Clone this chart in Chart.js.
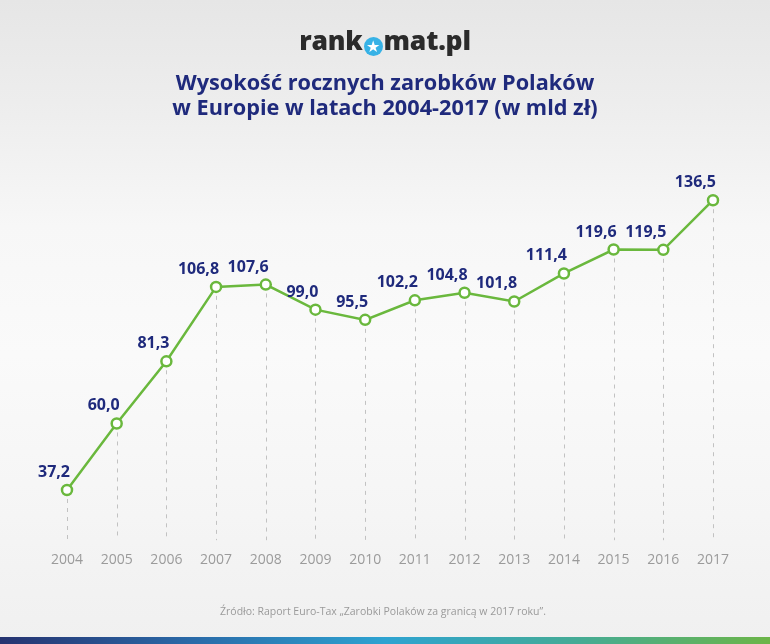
<!DOCTYPE html>
<html>
<head>
<meta charset="utf-8">
<script src="https://cdn.jsdelivr.net/npm/chart.js@4"></script>
<style>
  html, body { margin: 0; padding: 0; }
  body {
    width: 770px; height: 644px; position: relative; overflow: hidden;
    background: linear-gradient(to bottom, #e6e6e6 0%, #eeeeee 18%, #f7f7f7 35%, #fafafa 55%, #f5f5f5 80%, #f0f0f0 100%);
    font-family: "Open Sans", sans-serif;
  }
  #chart { position: absolute; left: 0; top: 0; }
  .logo {
    position: absolute; left: 0; top: 23px; width: 770px; text-align: center;
    font: 800 26.5px "Open Sans", sans-serif; color: #2b2b2b; line-height: 34px; letter-spacing: -0.2px;
  }
  .logo .o {
    display: inline-block; width: 19px; height: 19px; border-radius: 50%;
    background: #37b2e6; color: #fff; font-size: 16px; line-height: 19px;
    text-align: center; vertical-align: -2px; margin: 0 1px; font-family: "DejaVu Sans", sans-serif;
  }
  .title {
    position: absolute; left: 0; top: 69px; width: 770px; text-align: center;
    font: 700 21.7px "Open Sans", sans-serif; color: #1f2a7c; line-height: 25px;
  }
  .source {
    position: absolute; left: 0; top: 604px; width: 766px; text-align: center;
    font: 400 10.5px "Open Sans", sans-serif; color: #9a9a9a; line-height: 14px;
  }
  .bar {
    position: absolute; left: 0; top: 637px; width: 770px; height: 7px;
    background: linear-gradient(to right, #263370 0%, #2a6aa8 25%, #2ea3d1 50%, #45ab95 75%, #6cb548 100%);
  }
</style>
</head>
<body>
<canvas id="chart" width="770" height="644"></canvas>
<div class="logo">rank<span class="o">★</span>mat.pl</div>
<div class="title">Wysokość rocznych zarobków Polaków<br>w Europie w latach 2004-2017 (w mld zł)</div>
<div class="source">Źródło: Raport Euro-Tax „Zarobki Polaków za granicą w 2017 roku”.</div>
<div class="bar"></div>
<script>
// ---- data ----
const years = ['2004','2005','2006','2007','2008','2009','2010','2011','2012','2013','2014','2015','2016','2017'];
const earnings = [37.2, 60.0, 81.3, 106.8, 107.6, 99.0, 95.5, 102.2, 104.8, 101.8, 111.4, 119.6, 119.5, 136.5];

// ---- style ----
const GREEN = '#6ab83d';
const NAVY = '#1f2a7c';
const YEAR_GRAY = '#9b9b9b';

const dropLines = {
  id: 'dropLines',
  beforeDatasetsDraw(chart) {
    const ctx = chart.ctx;
    const meta = chart.getDatasetMeta(0);
    const bottom = chart.chartArea.bottom;
    ctx.save();
    ctx.strokeStyle = '#c2c2c2';
    ctx.lineWidth = 1;
    ctx.setLineDash([4, 5]);
    meta.data.forEach(pt => {
      const x = Math.round(pt.x) + 0.5;
      ctx.beginPath();
      ctx.moveTo(x, pt.y + 9);
      ctx.lineTo(x, bottom);
      ctx.stroke();
    });
    ctx.restore();
  }
};

const valueLabels = {
  id: 'valueLabels',
  afterDatasetsDraw(chart) {
    const ctx = chart.ctx;
    const meta = chart.getDatasetMeta(0);
    const data = chart.data.datasets[0].data;
    ctx.save();
    ctx.font = 'bold 16px "Open Sans", sans-serif';
    ctx.fillStyle = NAVY;
    ctx.textAlign = 'right';
    ctx.textBaseline = 'alphabetic';
    meta.data.forEach((pt, i) => {
      const txt = data[i].toFixed(1).replace('.', ',');
      ctx.fillText(txt, pt.x + 3, pt.y - 13);
    });
    ctx.restore();
  }
};

new Chart(document.getElementById('chart'), {
  type: 'line',
  data: {
    labels: years,
    datasets: [{
      data: earnings,
      borderColor: GREEN,
      borderWidth: 2.5,
      tension: 0,
      pointRadius: 5,
      pointBorderWidth: 2.5,
      pointBackgroundColor: '#ffffff',
      pointBorderColor: GREEN,
      fill: false
    }]
  },
  options: {
    responsive: false,
    animation: false,
    devicePixelRatio: 1,
    layout: { padding: { left: 67, right: 57, top: 190, bottom: 65 } },
    plugins: { legend: { display: false }, tooltip: { enabled: false }, title: { display: false } },
    scales: {
      x: {
        offset: false,
        grid: { display: false, drawTicks: false },
        border: { display: false },
        ticks: {
          color: YEAR_GRAY,
          font: { family: '"Open Sans", sans-serif', size: 14 },
          padding: 11,
          maxRotation: 0,
          autoSkip: false
        }
      },
      y: { display: false, min: 20, max: 140 }
    }
  },
  plugins: [dropLines, valueLabels]
});
</script>
</body>
</html>
